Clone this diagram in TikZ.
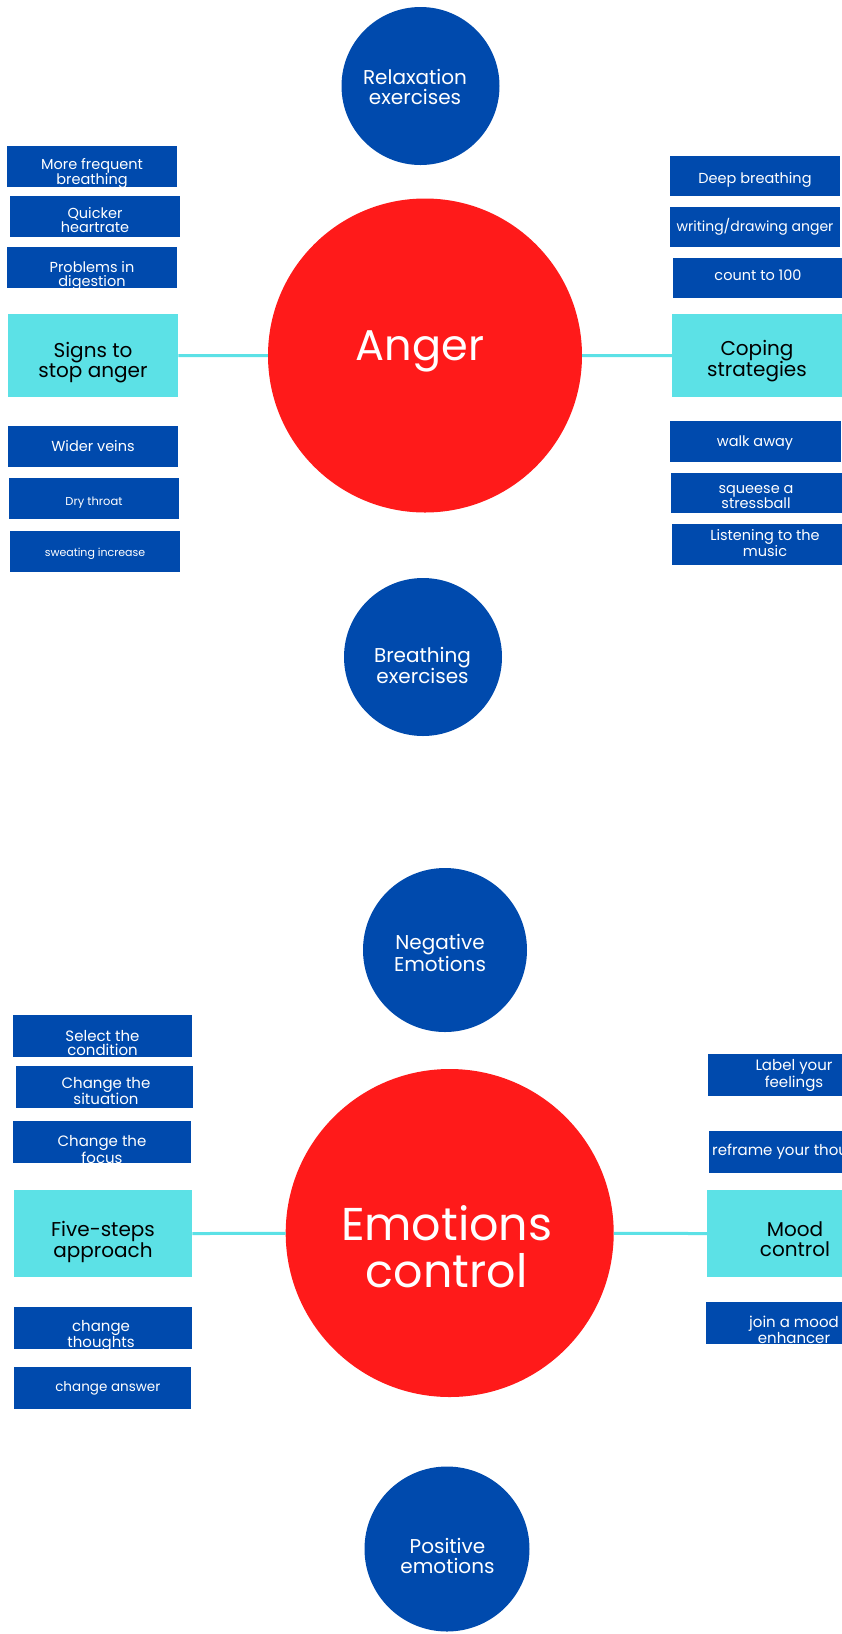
\documentclass[tikz,border=0pt]{standalone}
\usepackage{fontspec}
\setmainfont{Poppins}
\definecolor{dblue}{HTML}{004AAD}
\definecolor{hred}{HTML}{FF1A1A}
\definecolor{lcyan}{HTML}{5CE1E6}
\newcommand\fsz[2]{\fontsize{#1}{#2}\selectfont}
\begin{document}
\begin{tikzpicture}[x=1pt,y=-1pt,
  dbox/.style={rectangle, fill=dblue, draw=none, inner sep=0pt, anchor=north west},
  cbox/.style={rectangle, fill=lcyan, draw=none, inner sep=0pt, anchor=north west},
  bcirc/.style={circle, fill=dblue, draw=none, inner sep=0pt},
  rcirc/.style={circle, fill=hred, draw=none, inner sep=0pt},
  wtxt/.style={text=white, align=center, inner sep=0pt},
  ktxt/.style={text=black, align=center, inner sep=0pt},
  link/.style={draw=lcyan, line width=3pt}]
\useasboundingbox (0,0) rectangle (842,1634);
\clip (0,0) rectangle (842,1634);
\fill[white] (0,0) rectangle (842,1634);

% ---------- Anger section ----------
\node[bcirc, minimum size=158] (relax) at (420.5,86) {};
\node[wtxt, font=\fsz{20}{20}] (relaxt) at (415,86.5) {Relaxation\\exercises};

\node[rcirc, minimum size=314] (anger) at (425,355.5) {};
\node[wtxt, font=\fsz{43}{43}, anchor=base] (angert) at (420,360.7) {Anger};

\node[bcirc, minimum size=158] (breath) at (423,657) {};
\node[wtxt, font=\fsz{20}{20}] (breatht) at (422.5,665.5) {Breathing\\exercises};

% left boxes
\node[dbox, minimum width=170, minimum height=41] (lb1) at (7,146) {};
\node[wtxt, font=\fsz{14.5}{14}] (lb1t) at (92,173.5) {More frequent\\breathing};
\node[dbox, minimum width=170, minimum height=41] (lb2) at (10,196) {};
\node[wtxt, font=\fsz{14.5}{14}] (lb2t) at (95,220) {Quicker\\heartrate};
\node[dbox, minimum width=170, minimum height=41] (lb3) at (7,247) {};
\node[wtxt, font=\fsz{14.5}{14}] (lb3t) at (92,275.5) {Problems in\\digestion};
\node[cbox, minimum width=170, minimum height=83] (lsig) at (8,314) {};
\node[ktxt, font=\fsz{20}{19}] (lsigt) at (93,363) {Signs to\\stop anger};
\node[dbox, minimum width=170, minimum height=41] (lb4) at (8,426) {};
\node[wtxt, font=\fsz{14.5}{14}, anchor=base] (lb4t) at (93,451.7) {Wider veins};
\node[dbox, minimum width=170, minimum height=41] (lb5) at (9,478) {};
\node[wtxt, font=\fsz{11.5}{12}, anchor=base] (lb5t) at (94,505) {Dry throat};
\node[dbox, minimum width=170, minimum height=41] (lb6) at (10,531) {};
\node[wtxt, font=\fsz{11}{12}, anchor=base] (lb6t) at (95,556.7) {sweating increase};

% right boxes
\node[dbox, minimum width=170, minimum height=40] (rb1) at (670,156) {};
\node[wtxt, font=\fsz{14.5}{14}, anchor=base] (rb1t) at (755,183.3) {Deep breathing};
\node[dbox, minimum width=170, minimum height=40] (rb2) at (670,207) {};
\node[wtxt, font=\fsz{14}{14}, anchor=base] (rb2t) at (755,231.7) {writing/drawing anger};
\node[dbox, minimum width=172, minimum height=40] (rb3) at (673,258) {};
\node[wtxt, font=\fsz{14.5}{14}, anchor=base] (rb3t) at (758,280.7) {count to 100};
\node[cbox, minimum width=180, minimum height=83] (rcop) at (672,314) {};
\node[ktxt, font=\fsz{20}{19}] (rcopt) at (757,361) {Coping\\strategies};
\node[dbox, minimum width=171, minimum height=41] (rb4) at (670,421) {};
\node[wtxt, font=\fsz{14.5}{14}, anchor=base] (rb4t) at (755,446.7) {walk away};
\node[dbox, minimum width=180, minimum height=40] (rb5) at (671,473) {};
\node[wtxt, font=\fsz{14.5}{14}] (rb5t) at (756,497) {squeese a\\stressball};
\node[dbox, minimum width=186, minimum height=41] (rb6) at (672,524) {};
\node[wtxt, font=\fsz{14.5}{14}] (rb6t) at (765,543.5) {Listening to the\\music};

\draw[link] (lsig) -- (anger);
\draw[link] (anger) -- (rcop);

% ---------- Emotions section ----------
\node[bcirc, minimum size=164] (neg) at (445,950) {};
\node[wtxt, font=\fsz{20}{20}] (negt) at (440,953) {Negative\\Emotions};

\node[rcirc, minimum size=328] (emo) at (449.7,1233) {};
\node[wtxt, font=\fsz{46}{47}] (emot) at (446.7,1247) {Emotions\\control};

\node[bcirc, minimum size=165] (pos) at (447,1549) {};
\node[wtxt, font=\fsz{20}{20}] (post) at (447.5,1556) {Positive\\emotions};

% left boxes
\node[dbox, minimum width=179, minimum height=42] (bl1) at (13,1015) {};
\node[wtxt, font=\fsz{15}{14.5}] (bl1t) at (102.5,1043) {Select the\\condition};
\node[dbox, minimum width=177, minimum height=42] (bl2) at (16,1066) {};
\node[wtxt, font=\fsz{15}{14.5}] (bl2t) at (106,1091) {Change the\\situation};
\node[dbox, minimum width=178, minimum height=42] (bl3) at (13,1121) {};
\node[wtxt, font=\fsz{15}{14.5}] (bl3t) at (102,1149.5) {Change the\\focus};
\node[cbox, minimum width=178, minimum height=87] (bfive) at (14,1190) {};
\node[ktxt, font=\fsz{20}{19.5}] (bfivet) at (103,1241.5) {Five-steps\\approach};
\node[dbox, minimum width=178, minimum height=42] (bl4) at (14,1307) {};
\node[wtxt, font=\fsz{15}{14.5}] (bl4t) at (101,1336) {change\\thoughts};
\node[dbox, minimum width=177, minimum height=42] (bl5) at (14,1367) {};
\node[wtxt, font=\fsz{13.5}{14}, anchor=base] (bl5t) at (107.8,1391.7) {change answer};

% right boxes
\node[dbox, minimum width=178, minimum height=42] (br1) at (708,1054) {};
\node[wtxt, font=\fsz{15}{14.5}] (br1t) at (794,1075.5) {Label your\\feelings};
\node[dbox, minimum width=178, minimum height=42] (br2) at (709,1131) {};
\node[wtxt, font=\fsz{15}{14.5}, anchor=base west] (br2t) at (712,1155) {reframe your thoughts};
\node[cbox, minimum width=178, minimum height=87] (bmood) at (707,1190) {};
\node[ktxt, font=\fsz{20}{20}] (bmoodt) at (795,1239) {Mood\\control};
\node[dbox, minimum width=178, minimum height=42] (br3) at (706,1302) {};
\node[wtxt, font=\fsz{15}{14.5}] (br3t) at (794,1330) {join a mood\\enhancer};

\draw[link] (bfive) -- (emo);
\draw[link] (emo) -- (bmood);
\end{tikzpicture}
\end{document}
